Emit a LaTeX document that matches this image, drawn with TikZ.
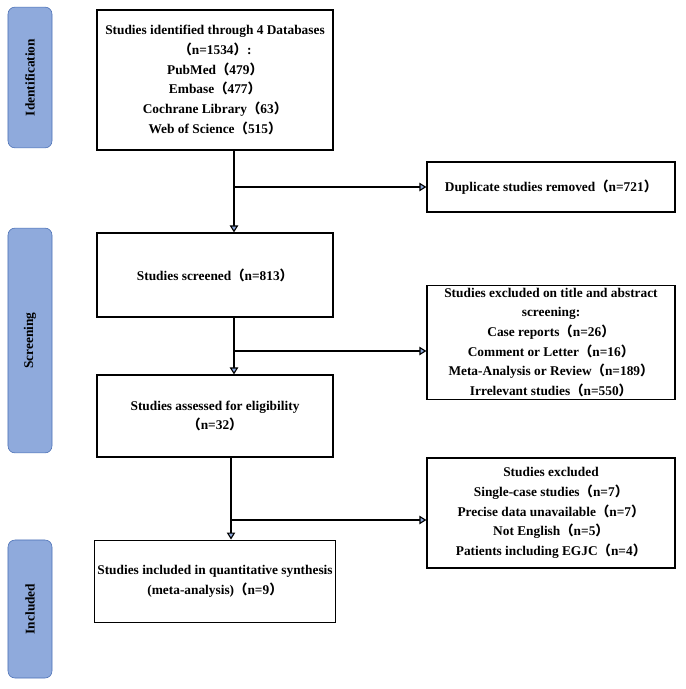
\documentclass[tikz,border=0pt]{standalone}
\usepackage{fontspec}
\setmainfont{Liberation Serif}
\newfontfamily\cjk{Noto Sans CJK SC}
\usetikzlibrary{arrows.meta}
\newcommand{\lp}{{\cjk （}}
\newcommand{\rp}{{\cjk ）}}
\definecolor{stageblue}{HTML}{8FAADC}
\definecolor{stageedge}{HTML}{4A6FB5}
\begin{document}
\begin{tikzpicture}[x=0.025cm,y=-0.025cm,font=\fontsize{9.5}{14}\selectfont\bfseries,
    >={Triangle[length=5pt,width=6pt,fill=stageblue]}]
    \tikzstyle{box}=[draw,thick,align=center,inner sep=2pt]
    \tikzstyle{stage}=[draw=stageedge,fill=stageblue,rounded corners=5pt]
    \tikzstyle{flow}=[thick,->]
    \useasboundingbox (0,0) rectangle (685,689);

    % stages
    \node(id)[stage,minimum width=1.1cm,minimum height=3.52cm] at (30,77.5){};
    \node[rotate=90] at (id){Identification};
    \node(sc)[stage,minimum width=1.1cm,minimum height=5.62cm] at (30,340.5){};
    \node[rotate=90] at (sc){Screening};
    \node(inc)[stage,minimum width=1.1cm,minimum height=3.45cm] at (30,609){};
    \node[rotate=90] at (inc){Included};

    % main column
    \node(db)[box,minimum width=5.9cm,minimum height=3.5cm] at (215,80){Studies identified through 4 Databases\\
        \lp n=1534\rp :\\ PubMed\lp 479\rp\\ Embase\lp 477\rp\\ Cochrane Library\lp 63\rp\\ Web of Science\lp 515\rp};
    \node(scr)[box,minimum width=5.9cm,minimum height=2.1cm] at (215,275){Studies screened\lp n=813\rp};
    \node(elig)[box,minimum width=5.9cm,minimum height=2.05cm] at (215,416){Studies assessed for eligibility\\\lp n=32\rp};
    \node(syn)[box,minimum width=5.9cm,minimum height=2.07cm] at (215,581.5){Studies included in quantitative synthesis\\(meta-analysis)\lp n=9\rp};

    % right column
    \node(dup)[box,minimum width=6.2cm,minimum height=1.25cm] at (551,187){Duplicate studies removed\lp n=721\rp};
    \node(ex1)[box,minimum width=6.2cm,minimum height=2.77cm] at (551,342.5){Studies excluded on title and abstract\\screening:\\
        Case reports\lp n=26\rp\\ Comment or Letter\lp n=16\rp\\ Meta-Analysis or Review\lp n=189\rp\\ Irrelevant studies\lp n=550\rp};
    \node(ex2)[box,minimum width=6.2cm,minimum height=2.75cm] at (551,513){Studies excluded\\ Single-case studies\lp n=7\rp\\
        Precise data unavailable\lp n=7\rp\\ Not English\lp n=5\rp\\ Patients including EGJC\lp n=4\rp};

    % connectors
    \coordinate(b1) at (234,187);
    \coordinate(b2) at (234,351);
    \coordinate(b3) at (231,520);
    \draw[flow] (db.south -| b1) -- (scr.north -| b1);
    \draw[flow] (scr.south -| b2) -- (elig.north -| b2);
    \draw[flow] (elig.south -| b3) -- (syn.north -| b3);
    \draw[flow] (b1) -- (dup.west);
    \draw[flow] (b2) -- (ex1.west |- b2);
    \draw[flow] (b3) -- (ex2.west |- b3);
\end{tikzpicture}
\end{document}
